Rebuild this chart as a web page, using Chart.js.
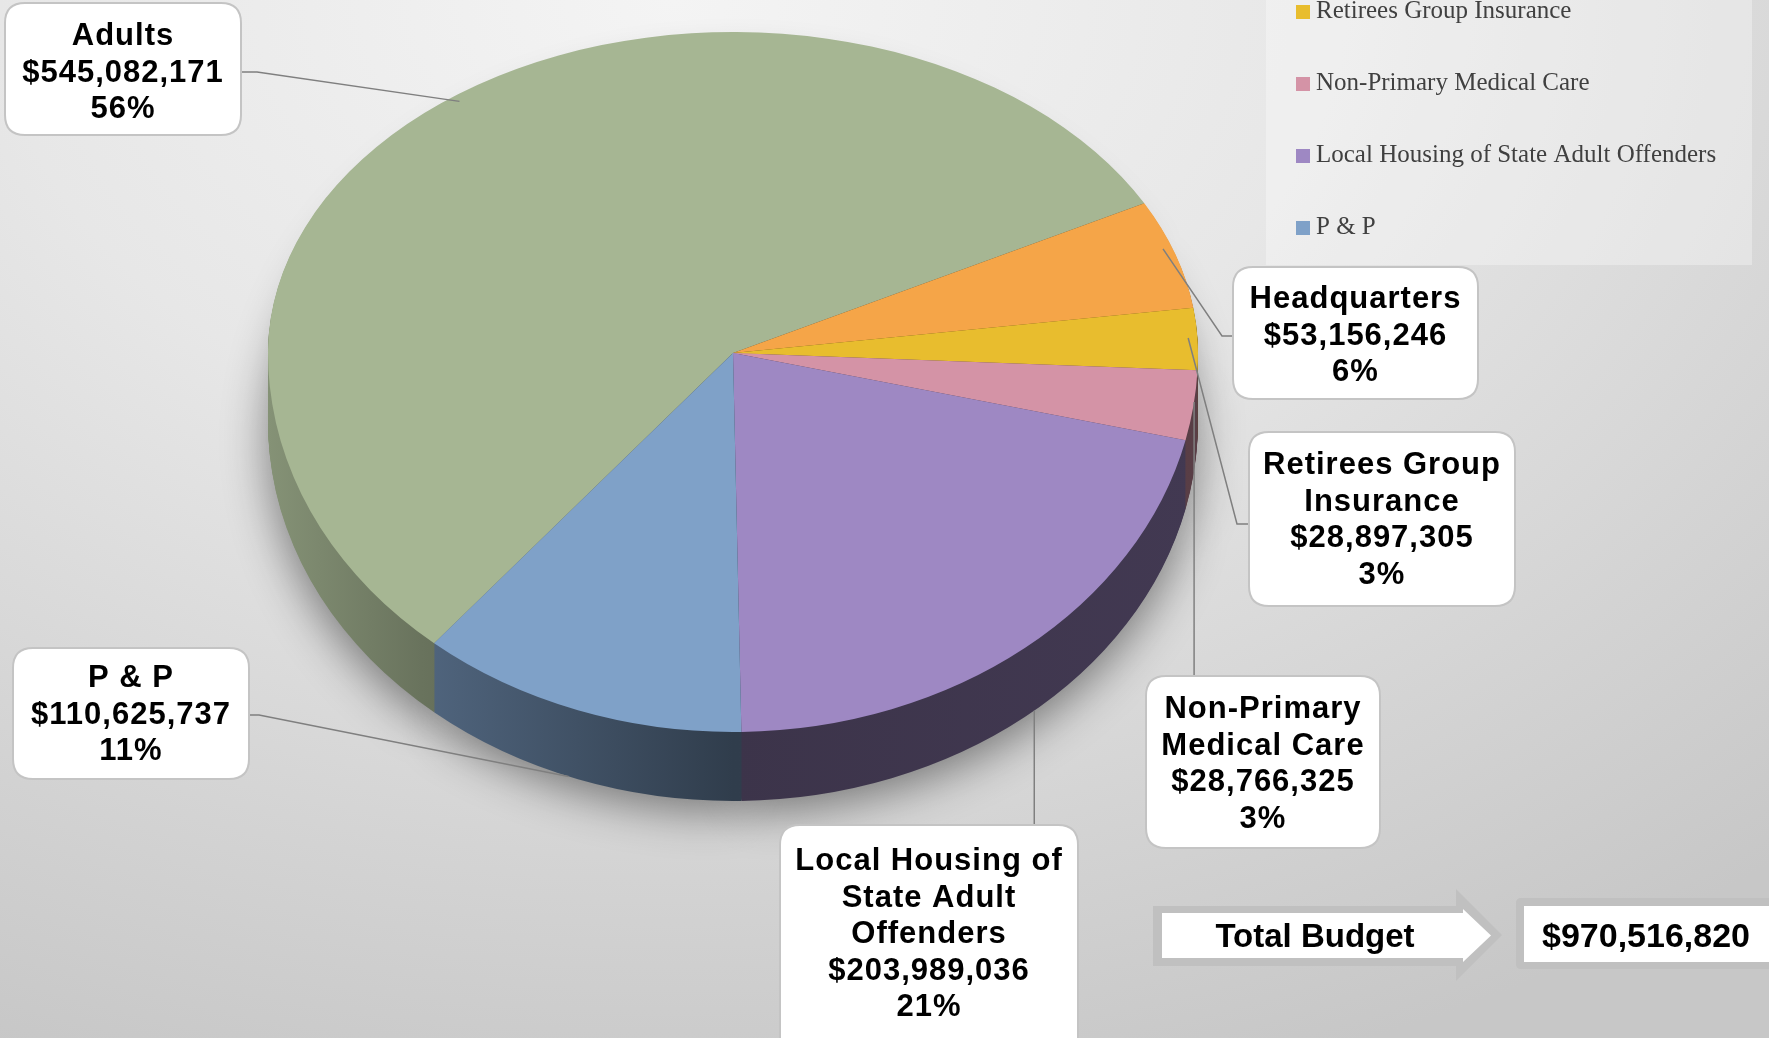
<!DOCTYPE html>
<html>
<head>
<meta charset="utf-8">
<title>Budget by Program</title>
<script src="https://cdn.jsdelivr.net/npm/chart.js@4.4.1/dist/chart.umd.min.js"></script>
<style>
  html, body { margin: 0; padding: 0; }
  body {
    width: 1769px;
    height: 1038px;
    overflow: hidden;
    background: radial-gradient(ellipse 95% 110% at 38% 0%, #f4f4f4 0%, #e7e7e7 40%, #d4d4d4 75%, #c7c7c7 100%);
  }
  #budgetChart { display: block; }
</style>
</head>
<body>
<canvas id="budgetChart" width="1769" height="1038"></canvas>
<script>
// Budget data
const categories = ['Adults', 'Headquarters', 'Retirees Group Insurance', 'Non-Primary Medical Care', 'Local Housing of State Adult Offenders', 'P & P'];
const amounts = [545082171, 53156246, 28897305, 28766325, 203989036, 110625737];
const percentLabels = ['56%', '6%', '3%', '3%', '21%', '11%'];
const calloutNames = [['Adults'], ['Headquarters'], ['Retirees Group', 'Insurance'], ['Non-Primary', 'Medical Care'], ['Local Housing of', 'State Adult', 'Offenders'], ['P & P']];
const sliceColors = ['#a6b693', '#f5a548', '#e8bd2e', '#d493a6', '#9e88c3', '#7fa1c8'];

// 3D look of the pie (screen pixels)
const PIE = { cx: 733, cy: 353, rx: 465, ryTop: 321, ryBottom: 379, depth: 69 };
const SHADOW = { cy: 430, ry: 372 };

// Callout boxes: [x, y, w, h], first text baseline, where the leader meets the slice,
// leader elbows (null x = straight down from the slice)
const callouts = [
  { box: [5, 3, 236, 132], baseline: 45, t: 0.51, r: 0.98, onSide: false, elbows: [[257, 72], [241, 72]] },
  { box: [1233, 267, 245, 132], baseline: 308, t: 0.43, r: 0.98, onSide: false, elbows: [[1222, 336], [1233, 336]] },
  { box: [1249, 432, 266, 174], baseline: 474, t: 0.5, r: 0.98, onSide: false, elbows: [[1237, 524], [1249, 524]] },
  { box: [1146, 676, 234, 172], baseline: 718, t: 0.45, r: 1, onSide: false, elbows: [[null, 676]] },
  { box: [780, 825, 298, 240], baseline: 870, t: 0.48, r: 1, onSide: true, elbows: [[null, 825]] },
  { box: [13, 648, 236, 131], baseline: 687, t: 0.53, r: 1, onSide: true, elbows: [[259, 715], [249, 715]] }
];
const LINE_H = 36.6;
const LABEL_FONT = "bold 31px 'Liberation Sans', Arial, sans-serif";

// Scale a hex colour towards black
function shade(hex, f) {
  const n = parseInt(hex.slice(1), 16);
  const r = Math.round(((n >> 16) & 255) * f);
  const g = Math.round(((n >> 8) & 255) * f);
  const b = Math.round((n & 255) * f);
  return `rgb(${r},${g},${b})`;
}

// Screen point on the pie rim inside a slice
function rimPoint(arc, t, r, offsetY) {
  const a = arc.startAngle + (arc.endAngle - arc.startAngle) * t;
  const sin = Math.sin(a);
  const ry = sin < 0 ? PIE.ryTop : PIE.ryBottom;
  return { x: PIE.cx + PIE.rx * r * Math.cos(a), y: PIE.cy + offsetY + ry * r * sin };
}

// Draw all arcs once, squashed into the 3D ellipse, shifted down by offsetY
function drawLayer(chart, arcs, offsetY, colorFor) {
  const ctx = chart.ctx;
  const first = arcs[0];
  const s = PIE.rx / first.outerRadius;
  const mid = Math.round(PIE.cy + offsetY);
  const halves = [
    { top: 0, bottom: mid + 1, ry: PIE.ryTop },
    { top: mid, bottom: chart.height, ry: PIE.ryBottom }
  ];

  halves.forEach(h => {
    ctx.save();
    ctx.beginPath();
    ctx.rect(0, h.top, chart.width, h.bottom - h.top);
    ctx.clip();
    ctx.translate(PIE.cx, PIE.cy + offsetY);
    ctx.scale(s, s * h.ry / PIE.rx);
    ctx.translate(-first.x, -first.y);
    arcs.forEach((arc, i) => {
      const el = Object.create(arc);
      el.options = Object.assign({}, arc.options, { backgroundColor: colorFor(i, ctx, first, s) });
      arc.draw.call(el, ctx);
    });
    ctx.restore();
  });
}

// Soft shadow: the arcs are drawn off-canvas, only their shadow lands on the page
function drawShadow(chart, arcs) {
  const ctx = chart.ctx;
  const first = arcs[0];
  const s = PIE.rx / first.outerRadius;
  ctx.save();
  ctx.shadowColor = 'rgba(0,0,0,0.45)';
  ctx.shadowBlur = 45;
  ctx.shadowOffsetX = 4000;
  ctx.shadowOffsetY = 10;
  ctx.translate(-4000, 0);
  ctx.translate(PIE.cx, SHADOW.cy);
  ctx.scale(s, s * SHADOW.ry / PIE.rx);
  ctx.translate(-first.x, -first.y);
  arcs.forEach(arc => arc.draw(ctx));
  ctx.restore();
}

// Side wall colour: lighter on the left, darker toward the front
function sideColor(i, ctx, first, s) {
  const toChart = x => first.x + (x - PIE.cx) / s;
  const g = ctx.createLinearGradient(toChart(PIE.cx - PIE.rx), 0, toChart(PIE.cx + PIE.rx), 0);
  const base = sliceColors[i];
  g.addColorStop(0, shade(base, 0.8));
  g.addColorStop(0.165, shade(base, 0.63));
  g.addColorStop(0.5, shade(base, 0.38));
  g.addColorStop(1, shade(base, 0.42));
  return g;
}

const pie3dPlugin = {
  id: 'pie3d',
  beforeDatasetsDraw(chart) {
    const arcs = chart.getDatasetMeta(0).data;
    if (!arcs.length) return false;

    drawShadow(chart, arcs);

    // side wall built from stacked layers
    for (let d = PIE.depth; d >= 1; d--) {
      drawLayer(chart, arcs, d, sideColor);
    }

    // top face
    drawLayer(chart, arcs, 0, i => sliceColors[i]);
    return false;
  },
  afterDraw(chart) {
    drawLegend(chart);
    drawCallouts(chart);
    drawTotal(chart);
  }
};

function roundRectPath(ctx, x, y, w, h, r) {
  ctx.beginPath();
  ctx.moveTo(x + r, y);
  ctx.lineTo(x + w - r, y);
  ctx.quadraticCurveTo(x + w, y, x + w, y + r);
  ctx.lineTo(x + w, y + h - r);
  ctx.quadraticCurveTo(x + w, y + h, x + w - r, y + h);
  ctx.lineTo(x + r, y + h);
  ctx.quadraticCurveTo(x, y + h, x, y + h - r);
  ctx.lineTo(x, y + r);
  ctx.quadraticCurveTo(x, y, x + r, y);
  ctx.closePath();
}

// Legend box at top right (first two items sit above the visible area)
function drawLegend(chart) {
  const ctx = chart.ctx;
  const colors = chart.data.datasets[0].backgroundColor;
  ctx.save();
  ctx.fillStyle = 'rgba(255,255,255,0.32)';
  ctx.fillRect(1266, 0, 486, 265);
  ctx.font = "25px 'Liberation Serif', 'Times New Roman', serif";
  ctx.textAlign = 'left';
  ctx.textBaseline = 'alphabetic';
  chart.data.labels.forEach((label, i) => {
    const baseline = -126 + i * 72;
    ctx.fillStyle = colors[i];
    ctx.fillRect(1296, baseline - 13, 14, 14);
    ctx.fillStyle = '#404040';
    ctx.fillText(label, 1316, baseline);
  });
  ctx.restore();
}

// Data label boxes with leader lines
function drawCallouts(chart) {
  const ctx = chart.ctx;
  const arcs = chart.getDatasetMeta(0).data;
  callouts.forEach((c, i) => {
    const anchor = rimPoint(arcs[i], c.t, c.r, c.onSide ? PIE.depth : 0);
    ctx.save();
    ctx.strokeStyle = '#7f7f7f';
    ctx.lineWidth = 1.5;
    ctx.beginPath();
    ctx.moveTo(anchor.x, anchor.y);
    c.elbows.forEach(p => ctx.lineTo(p[0] === null ? anchor.x : p[0], p[1]));
    ctx.stroke();

    const [x, y, w, h] = c.box;
    roundRectPath(ctx, x, y, w, h, 20);
    ctx.fillStyle = '#ffffff';
    ctx.fill();
    ctx.strokeStyle = '#c4c4c4';
    ctx.lineWidth = 2;
    ctx.stroke();

    const lines = calloutNames[i].concat(['$' + amounts[i].toLocaleString('en-US'), percentLabels[i]]);
    ctx.fillStyle = '#000000';
    ctx.font = LABEL_FONT;
    ctx.letterSpacing = '1px';
    ctx.textAlign = 'center';
    ctx.textBaseline = 'alphabetic';
    lines.forEach((line, j) => ctx.fillText(line, x + w / 2, c.baseline + j * LINE_H));
    ctx.restore();
  });
}

// "Total Budget" arrow and value box
function drawTotal(chart) {
  const ctx = chart.ctx;
  const total = amounts.reduce((sum, v) => sum + v, 0);
  ctx.save();

  ctx.fillStyle = '#c0c0c0';
  ctx.beginPath();
  ctx.moveTo(1153, 906);
  ctx.lineTo(1456, 906);
  ctx.lineTo(1456, 889);
  ctx.lineTo(1502, 935);
  ctx.lineTo(1456, 981);
  ctx.lineTo(1456, 966);
  ctx.lineTo(1153, 966);
  ctx.closePath();
  ctx.fill();

  ctx.fillStyle = '#ffffff';
  ctx.beginPath();
  ctx.moveTo(1162, 913);
  ctx.lineTo(1463, 913);
  ctx.lineTo(1463, 909);
  ctx.lineTo(1491, 935.5);
  ctx.lineTo(1463, 962);
  ctx.lineTo(1463, 958);
  ctx.lineTo(1162, 958);
  ctx.closePath();
  ctx.fill();

  ctx.fillStyle = '#c0c0c0';
  roundRectPath(ctx, 1516, 898, 280, 71, 5);
  ctx.fill();
  ctx.fillStyle = '#ffffff';
  ctx.fillRect(1524, 906, 260, 56);

  ctx.fillStyle = '#000000';
  ctx.font = "bold 33px 'Liberation Sans', Arial, sans-serif";
  ctx.textAlign = 'center';
  ctx.textBaseline = 'alphabetic';
  ctx.fillText('Total Budget', 1315, 947);

  ctx.font = "bold 34px 'Liberation Sans', Arial, sans-serif";
  ctx.textAlign = 'left';
  ctx.fillText('$' + total.toLocaleString('en-US'), 1542, 947);
  ctx.restore();
}

// Build the chart
function initChart() {
  const ctx = document.getElementById('budgetChart').getContext('2d');
  new Chart(ctx, {
    type: 'pie',
    data: {
      labels: categories,
      datasets: [{
        data: amounts,
        backgroundColor: sliceColors,
        borderWidth: 0,
        hoverOffset: 0,
        hoverBorderWidth: 0
      }]
    },
    options: {
      responsive: false,
      animation: false,
      events: [],
      rotation: 220,
      layout: { padding: { left: 268, right: 571, top: 54, bottom: 54 } },
      plugins: {
        legend: { display: false },
        tooltip: { enabled: false }
      }
    },
    plugins: [pie3dPlugin]
  });
}

document.addEventListener('DOMContentLoaded', initChart);
</script>
</body>
</html>
